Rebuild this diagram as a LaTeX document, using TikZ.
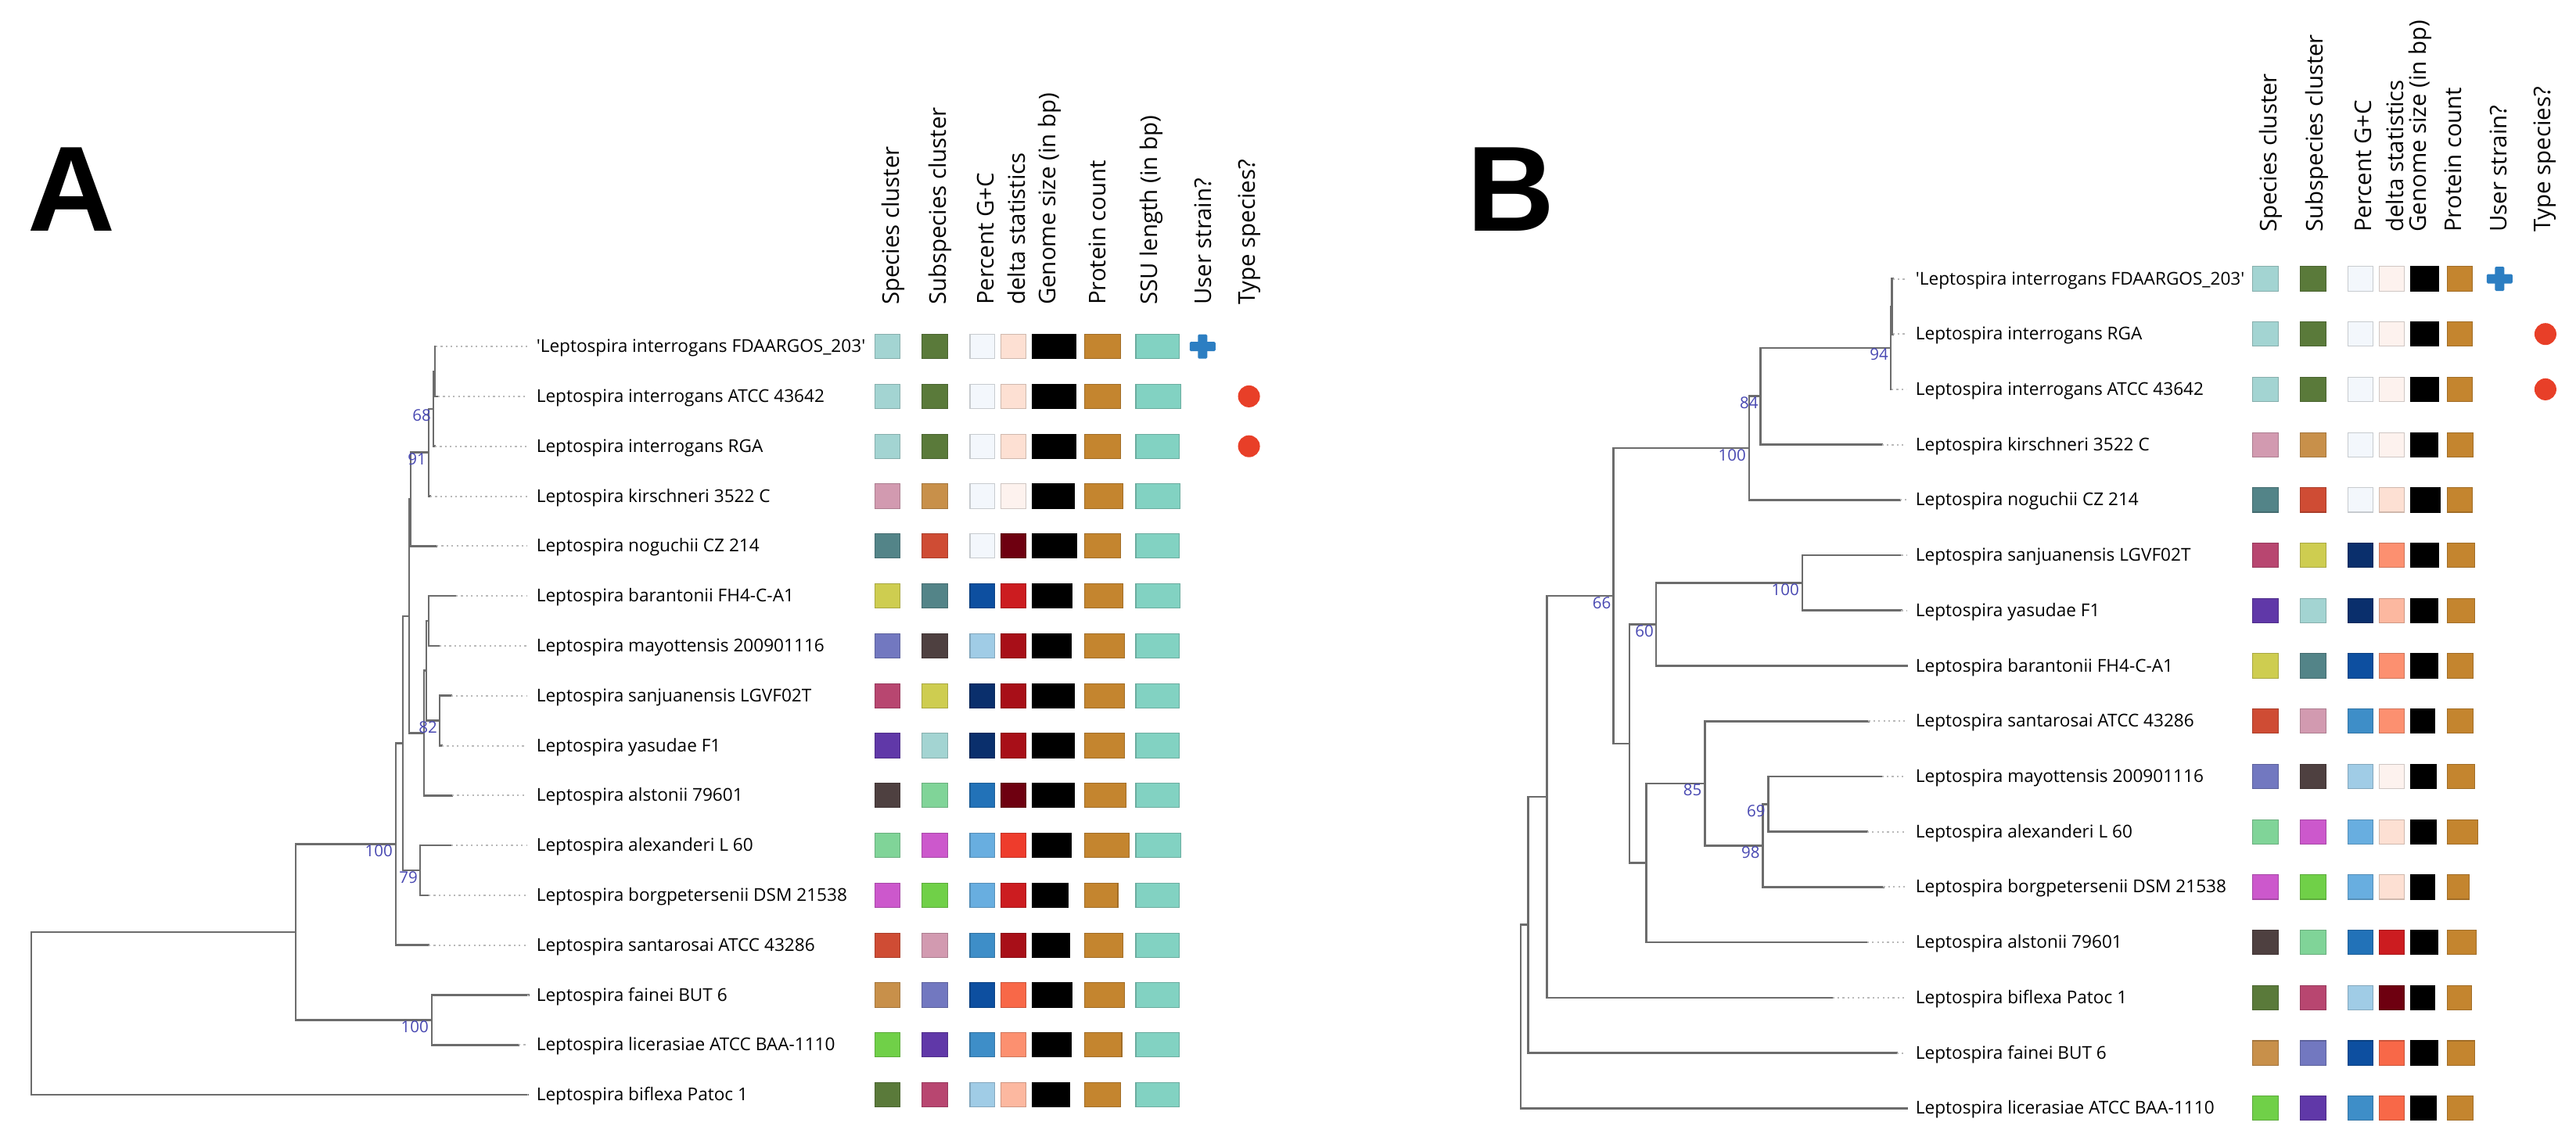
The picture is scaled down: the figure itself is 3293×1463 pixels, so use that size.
\documentclass[tikz,border=0pt]{standalone}
\usepackage{fontspec}
\newfontfamily\osans{Open Sans}
\newfontfamily\panelfam{Liberation Sans}
\usetikzlibrary{calc}
\definecolor{brc}{RGB}{108,108,108}
\definecolor{dotc}{RGB}{185,185,185}
\definecolor{supc}{RGB}{72,72,178}
\definecolor{crossc}{HTML}{2C7EC2}
\definecolor{dotred}{HTML}{E83F28}
\definecolor{gsz}{HTML}{000000}
\definecolor{prot}{HTML}{C4852F}
\definecolor{ssu}{HTML}{82D2C2}
\definecolor{cTeal}{HTML}{A3D4D2}
\definecolor{cOlive}{HTML}{5A7A3A}
\definecolor{cGCl}{HTML}{F3F7FC}
\definecolor{cDla}{HTML}{FDE0D3}
\definecolor{cDlz}{HTML}{FDF2EE}
\definecolor{cPink}{HTML}{D29AB0}
\definecolor{cTan}{HTML}{C8904A}
\definecolor{cTg}{HTML}{538488}
\definecolor{cRo}{HTML}{CF4C34}
\definecolor{cMar}{HTML}{6E0010}
\definecolor{cYel}{HTML}{CECD50}
\definecolor{cBla}{HTML}{0D4FA0}
\definecolor{cRed}{HTML}{CC1C20}
\definecolor{cPeri}{HTML}{7278C0}
\definecolor{cDkb}{HTML}{4E4040}
\definecolor{cLtb}{HTML}{A0CCE6}
\definecolor{cDred}{HTML}{A80F18}
\definecolor{cRose}{HTML}{B84670}
\definecolor{cNavy}{HTML}{0A2F6C}
\definecolor{cPurp}{HTML}{6038A8}
\definecolor{cLtg}{HTML}{80D498}
\definecolor{cBlb}{HTML}{2272B8}
\definecolor{cOrch}{HTML}{CC58CC}
\definecolor{cSky}{HTML}{68AEE0}
\definecolor{cRob}{HTML}{EE3C2C}
\definecolor{cGrn}{HTML}{70D048}
\definecolor{cBlc}{HTML}{3E8EC8}
\definecolor{cCor}{HTML}{F86848}
\definecolor{cSal}{HTML}{FC9070}
\definecolor{cLsal}{HTML}{FCB8A0}
\newcommand{\labfont}{\osans\fontsize{22.6}{27}\selectfont}
\newcommand{\hdrfont}{\osans\fontsize{29.4}{35}\selectfont}
\newcommand{\supfont}{\osans\fontsize{20.5}{24}\selectfont}
\newcommand{\bigfont}{\panelfam\bfseries\fontsize{155}{160}\selectfont}
\newcommand{\mycell}[4]{\path[fill=#4,draw=#4!82!black,line width=1.1pt] (#1,{#3-15.6}) rectangle (#2,{#3+15.6});}
\newcommand{\cellsA}[8]{%
 \mycell{1118.3}{1150.8}{#1}{#2}%
 \mycell{1178.7}{1211.3}{#1}{#3}%
 \mycell{1240}{1271.4}{#1}{#4}%
 \mycell{1279.8}{1311.5}{#1}{#5}%
 \mycell{1320}{#6}{#1}{gsz}%
 \mycell{1386.2}{#7}{#1}{prot}%
 \mycell{1452}{#8}{#1}{ssu}}
\newcommand{\cellsB}[7]{%
 \mycell{2879.6}{2912.4}{#1}{#2}%
 \mycell{2940.3}{2973.1}{#1}{#3}%
 \mycell{3001.8}{3033.4}{#1}{#4}%
 \mycell{3041.6}{3073.1}{#1}{#5}%
 \mycell{3081.3}{#6}{#1}{gsz}%
 \mycell{3128.9}{#7}{#1}{prot}}
\newcommand{\usercross}[2]{%
 \fill[crossc,rounded corners=1.5pt] ({#1-16.5},{#2-6}) rectangle ({#1+16.5},{#2+6});
 \fill[crossc,rounded corners=1.5pt] ({#1-6},{#2-15.5}) rectangle ({#1+6},{#2+15.5});}
\begin{document}
\begin{tikzpicture}[x=1pt,y=-1pt,
  br/.style={draw=brc,line width=2.7pt,line cap=rect},
  dots/.style={draw=dotc,line width=2pt,dash pattern=on 2.2pt off 4.2pt},
  lab/.style={anchor=base west,inner sep=0pt,font=\labfont},
  sup/.style={anchor=north east,inner sep=0pt,text=supc,font=\supfont},
  hdr/.style={rotate=90,anchor=base west,inner sep=0pt,font=\hdrfont},
  typedot/.style={circle,fill=dotred,inner sep=0pt,minimum size=28pt}]
\useasboundingbox (0,0) rectangle (3293,1463);
\fill[white] (0,0) rectangle (3293,1463);

% ---------- panel letters
\node[anchor=base west,inner sep=0pt,font=\bigfont] (letA) at (35,296) {A};
\node[anchor=base west,inner sep=0pt,font=\bigfont] (letB) at (1875,296) {B};

% ================= PANEL A =================
\coordinate (At0) at (557,443.1);
\coordinate (At1) at (560,506.9);
\coordinate (At2) at (556,570.7);
\coordinate (At3) at (550,634.5);
\coordinate (At4) at (558,698.3);
\coordinate (At5) at (583,762.1);
\coordinate (At6) at (561.5,825.9);
\coordinate (At7) at (576.5,889.7);
\coordinate (At8) at (565,953.5);
\coordinate (At9) at (578,1017.3);
\coordinate (At10) at (576.5,1081.1);
\coordinate (At11) at (548,1144.9);
\coordinate (At12) at (548,1208.7);
\coordinate (At13) at (676,1272.5);
\coordinate (At14) at (663,1336.3);
\coordinate (At15) at (675,1400.1);
\coordinate (An1) at (556,475.0);
\coordinate (An68) at (554,522.85);
\coordinate (An91) at (548,578.7);
\coordinate (AnN) at (525,638.5);
\coordinate (Ag) at (548,794.0);
\coordinate (Ae) at (562,921.6);
\coordinate (Af) at (545,857.8);
\coordinate (Ad) at (542,937.55);
\coordinate (Ac) at (523,788.0);
\coordinate (An79) at (537,1113.0);
\coordinate (Ab) at (515,950.5);
\coordinate (Aa) at (506,1079.6);
\coordinate (Afl) at (552,1304.4);
\coordinate (AX) at (378,1192.0);
\coordinate (Aroot) at (40,1296.05);

\draw[br] (An1) |- (At0) (An1) |- (At1)
 (An68) |- (An1) (An68) |- (At2)
 (An91) |- (An68) (An91) |- (At3)
 (AnN) |- (An91) (AnN) |- (At4)
 (Ag) |- (At5) (Ag) |- (At6)
 (Ae) |- (At7) (Ae) |- (At8)
 (Af) |- (Ag) (Af) |- (Ae)
 (Ad) |- (Af) (Ad) |- (At9)
 (Ac) |- (AnN) (Ac) |- (Ad)
 (An79) |- (At10) (An79) |- (At11)
 (Ab) |- (Ac) (Ab) |- (An79)
 (Aa) |- (Ab) (Aa) |- (At12)
 (Afl) |- (At13) (Afl) |- (At14)
 (AX) |- (Aa) (AX) |- (Afl)
 (Aroot) |- (AX) (Aroot) |- (At15);

\node[sup] (As68) at ($(An68)+(-3,1)$) {68};
\node[sup] (As91) at ($(An91)+(-3,1)$) {91};
\node[sup] (As82) at ($(Ae)+(-3,1)$) {82};
\node[sup] (As79) at ($(An79)+(-3,1)$) {79};
\node[sup] (As100a) at ($(Aa)+(-4,1)$) {100};
\node[sup] (As100b) at ($(Afl)+(-4,1)$) {100};

\node[lab] (AL0) at (685.6,450.6) {'Leptospira interrogans FDAARGOS\_203'};
\node[lab] (AL1) at (685.6,514.4) {Leptospira interrogans ATCC 43642};
\node[lab] (AL2) at (685.6,578.2) {Leptospira interrogans RGA};
\node[lab] (AL3) at (685.6,642.0) {Leptospira kirschneri 3522 C};
\node[lab] (AL4) at (685.6,705.8) {Leptospira noguchii CZ 214};
\node[lab] (AL5) at (685.6,769.6) {Leptospira barantonii FH4-C-A1};
\node[lab] (AL6) at (685.6,833.4) {Leptospira mayottensis 200901116};
\node[lab] (AL7) at (685.6,897.2) {Leptospira sanjuanensis LGVF02T};
\node[lab] (AL8) at (685.6,961.0) {Leptospira yasudae F1};
\node[lab] (AL9) at (685.6,1024.8) {Leptospira alstonii 79601};
\node[lab] (AL10) at (685.6,1088.6) {Leptospira alexanderi L 60};
\node[lab] (AL11) at (685.6,1152.4) {Leptospira borgpetersenii DSM 21538};
\node[lab] (AL12) at (685.6,1216.2) {Leptospira santarosai ATCC 43286};
\node[lab] (AL13) at (685.6,1280.0) {Leptospira fainei BUT 6};
\node[lab] (AL14) at (685.6,1343.8) {Leptospira licerasiae ATCC BAA-1110};
\node[lab] (AL15) at (685.6,1407.6) {Leptospira biflexa Patoc 1};
\foreach \i in {0,...,15} \draw[dots] (At\i) -- ($(AL\i.west |- At\i)+(-12,0)$);

\node[hdr] (Ah1) at (1149,390.1) {Species cluster};
\node[hdr] (Ah2) at (1209.4,390.1) {Subspecies cluster};
\node[hdr] (Ah3) at (1270.2,390.1) {Percent G+C};
\node[hdr] (Ah4) at (1310.4,390.1) {delta statistics};
\node[hdr] (Ah5) at (1349.8,390.1) {Genome size (in bp)};
\node[hdr] (Ah6) at (1413.7,390.1) {Protein count};
\node[hdr] (Ah7) at (1479.9,390.1) {SSU length (in bp)};
\node[hdr] (Ah8) at (1548.8,390.1) {User strain?};
\node[hdr] (Ah9) at (1604.3,390.1) {Type species?};

\cellsA{443.1}{cTeal}{cOlive}{cGCl}{cDla}{1375.4}{1432.1}{1507.9}
\cellsA{506.9}{cTeal}{cOlive}{cGCl}{cDla}{1375.4}{1432.1}{1509.8}
\cellsA{570.7}{cTeal}{cOlive}{cGCl}{cDla}{1375.4}{1432.1}{1507.9}
\cellsA{634.5}{cPink}{cTan}{cGCl}{cDlz}{1373.5}{1435.1}{1508.6}
\cellsA{698.3}{cTg}{cRo}{cGCl}{cMar}{1376.6}{1432.1}{1507.9}
\cellsA{762.1}{cYel}{cTg}{cBla}{cRed}{1370.9}{1435.1}{1508.6}
\cellsA{825.9}{cPeri}{cDkb}{cLtb}{cDred}{1369.7}{1437.8}{1507.9}
\cellsA{889.7}{cRose}{cYel}{cNavy}{cDred}{1373.5}{1437.8}{1507.9}
\cellsA{953.5}{cPurp}{cTeal}{cNavy}{cDred}{1373.5}{1437.8}{1507.9}
\cellsA{1017.3}{cDkb}{cLtg}{cBlb}{cMar}{1373.5}{1439.7}{1507.9}
\cellsA{1081.1}{cLtg}{cOrch}{cSky}{cRob}{1369.7}{1443.6}{1509.8}
\cellsA{1144.9}{cOrch}{cGrn}{cSky}{cRed}{1365.5}{1429.0}{1507.9}
\cellsA{1208.7}{cRo}{cPink}{cBlc}{cDred}{1367.8}{1435.1}{1507.9}
\cellsA{1272.5}{cTan}{cPeri}{cBla}{cCor}{1370.9}{1437.8}{1507.9}
\cellsA{1336.3}{cGrn}{cPurp}{cBlc}{cSal}{1369.7}{1434.0}{1507.9}
\cellsA{1400.1}{cOlive}{cRose}{cLtb}{cLsal}{1367.8}{1432.1}{1507.9}
\usercross{1537.3}{443.1}
\node[typedot] (Ad1) at (1596.6,506.9) {};
\node[typedot] (Ad2) at (1596.6,570.7) {};

% ================= PANEL B =================
\coordinate (Bt0) at (2419.5,356.5);
\coordinate (Bt1) at (2419.5,427.2);
\coordinate (Bt2) at (2418,497.9);
\coordinate (Bt3) at (2405.6,568.7);
\coordinate (Bt4) at (2428.6,639.4);
\coordinate (Bt5) at (2430.3,710.1);
\coordinate (Bt6) at (2430.3,780.8);
\coordinate (Bt7) at (2437.2,851.5);
\coordinate (Bt8) at (2388.4,922.3);
\coordinate (Bt9) at (2405.6,993.0);
\coordinate (Bt10) at (2386.7,1063.7);
\coordinate (Bt11) at (2407.3,1134.4);
\coordinate (Bt12) at (2386.7,1205.1);
\coordinate (Bt13) at (2342.5,1275.9);
\coordinate (Bt14) at (2424.6,1346.6);
\coordinate (Bt15) at (2437.2,1417.3);
\coordinate (Bn1) at (2418.5,391.9);
\coordinate (B94) at (2417,444.9);
\coordinate (B84) at (2250.8,506.8);
\coordinate (B100a) at (2235.9,573.1);
\coordinate (B100b) at (2303.9,745.5);
\coordinate (B60) at (2117.1,798.5);
\coordinate (B69) at (2260.8,1028.4);
\coordinate (B98) at (2253.8,1081.4);
\coordinate (B85) at (2179.5,1001.9);
\coordinate (Bq) at (2104.6,1103.5);
\coordinate (Bp) at (2083,951);
\coordinate (B66) at (2062.4,762);
\coordinate (Bs) at (1977.8,1019);
\coordinate (Bu) at (1953.6,1182.8);
\coordinate (Broot) at (1944,1300);

\draw[br] (Bn1) |- (Bt0) (Bn1) |- (Bt1)
 (B94) |- (Bn1) (B94) |- (Bt2)
 (B84) |- (B94) (B84) |- (Bt3)
 (B100a) |- (B84) (B100a) |- (Bt4)
 (B100b) |- (Bt5) (B100b) |- (Bt6)
 (B60) |- (B100b) (B60) |- (Bt7)
 (B69) |- (Bt9) (B69) |- (Bt10)
 (B98) |- (B69) (B98) |- (Bt11)
 (B85) |- (Bt8) (B85) |- (B98)
 (Bq) |- (B85) (Bq) |- (Bt12)
 (Bp) |- (B60) (Bp) |- (Bq)
 (B66) |- (B100a) (B66) |- (Bp)
 (Bs) |- (B66) (Bs) |- (Bt13)
 (Bu) |- (Bs) (Bu) |- (Bt14)
 (Broot) |- (Bu) (Broot) |- (Bt15);

\node[sup] (Bs94) at ($(B94)+(-3,1)$) {94};
\node[sup] (Bs84) at ($(B84)+(-3,1)$) {84};
\node[sup] (Bs100a) at ($(B100a)+(-4,1)$) {100};
\node[sup] (Bs100b) at ($(B100b)+(-4,1)$) {100};
\node[sup] (Bs60) at ($(B60)+(-3,1)$) {60};
\node[sup] (Bs66) at ($(B66)+(-3,1)$) {66};
\node[sup] (Bs85) at ($(B85)+(-4,1)$) {85};
\node[sup] (Bs69) at ($(B69)+(-4,1)$) {69};
\node[sup] (Bs98) at ($(B98)+(-4,1)$) {98};

\node[lab] (BL0) at (2448.7,364.0) {'Leptospira interrogans FDAARGOS\_203'};
\node[lab] (BL1) at (2448.7,434.7) {Leptospira interrogans RGA};
\node[lab] (BL2) at (2448.7,505.4) {Leptospira interrogans ATCC 43642};
\node[lab] (BL3) at (2448.7,576.2) {Leptospira kirschneri 3522 C};
\node[lab] (BL4) at (2448.7,646.9) {Leptospira noguchii CZ 214};
\node[lab] (BL5) at (2448.7,717.6) {Leptospira sanjuanensis LGVF02T};
\node[lab] (BL6) at (2448.7,788.3) {Leptospira yasudae F1};
\node[lab] (BL7) at (2448.7,859.0) {Leptospira barantonii FH4-C-A1};
\node[lab] (BL8) at (2448.7,929.8) {Leptospira santarosai ATCC 43286};
\node[lab] (BL9) at (2448.7,1000.5) {Leptospira mayottensis 200901116};
\node[lab] (BL10) at (2448.7,1071.2) {Leptospira alexanderi L 60};
\node[lab] (BL11) at (2448.7,1141.9) {Leptospira borgpetersenii DSM 21538};
\node[lab] (BL12) at (2448.7,1212.6) {Leptospira alstonii 79601};
\node[lab] (BL13) at (2448.7,1283.4) {Leptospira biflexa Patoc 1};
\node[lab] (BL14) at (2448.7,1354.1) {Leptospira fainei BUT 6};
\node[lab] (BL15) at (2448.7,1424.8) {Leptospira licerasiae ATCC BAA-1110};
\foreach \i in {0,...,15} \draw[dots] (Bt\i) -- ($(BL\i.west |- Bt\i)+(-11.5,0)$);

\node[hdr] (Bh1) at (2910.4,296.9) {Species cluster};
\node[hdr] (Bh2) at (2969.8,296.9) {Subspecies cluster};
\node[hdr] (Bh3) at (3031.3,296.9) {Percent G+C};
\node[hdr] (Bh4) at (3072.3,296.9) {delta statistics};
\node[hdr] (Bh5) at (3101.0,296.9) {Genome size (in bp)};
\node[hdr] (Bh6) at (3146.9,296.9) {Protein count};
\node[hdr] (Bh8) at (3204.3,296.9) {User strain?};
\node[hdr] (Bh9) at (3260.9,296.9) {Type species?};

\cellsB{356.5}{cTeal}{cOlive}{cGCl}{cDlz}{3117.4}{3160.5}
\cellsB{427.2}{cTeal}{cOlive}{cGCl}{cDlz}{3117.4}{3160.5}
\cellsB{497.9}{cTeal}{cOlive}{cGCl}{cDlz}{3117.4}{3160.5}
\cellsB{568.7}{cPink}{cTan}{cGCl}{cDlz}{3116.2}{3161.7}
\cellsB{639.4}{cTg}{cRo}{cGCl}{cDla}{3119.5}{3160.5}
\cellsB{710.1}{cRose}{cYel}{cNavy}{cSal}{3117.4}{3163.3}
\cellsB{780.8}{cPurp}{cTeal}{cNavy}{cLsal}{3116.2}{3163.3}
\cellsB{851.5}{cYel}{cTg}{cBla}{cSal}{3116.2}{3161.7}
\cellsB{922.3}{cRo}{cPink}{cBlc}{cSal}{3112.5}{3161.7}
\cellsB{993.0}{cPeri}{cDkb}{cLtb}{cDlz}{3114.1}{3163.3}
\cellsB{1063.7}{cLtg}{cOrch}{cSky}{cDla}{3114.1}{3167.4}
\cellsB{1134.4}{cOrch}{cGrn}{cSky}{cDla}{3112.5}{3156.4}
\cellsB{1205.1}{cDkb}{cLtg}{cBlb}{cRed}{3116.2}{3165.4}
\cellsB{1275.9}{cOlive}{cRose}{cLtb}{cMar}{3112.5}{3159.6}
\cellsB{1346.6}{cTan}{cPeri}{cBla}{cCor}{3116.2}{3163.3}
\cellsB{1417.3}{cGrn}{cPurp}{cBlc}{cCor}{3114.1}{3161.7}
\usercross{3195.3}{356.5}
\node[typedot] (Bd1) at (3253.9,427.2) {};
\node[typedot] (Bd2) at (3253.9,497.9) {};
\end{tikzpicture}
\end{document}
